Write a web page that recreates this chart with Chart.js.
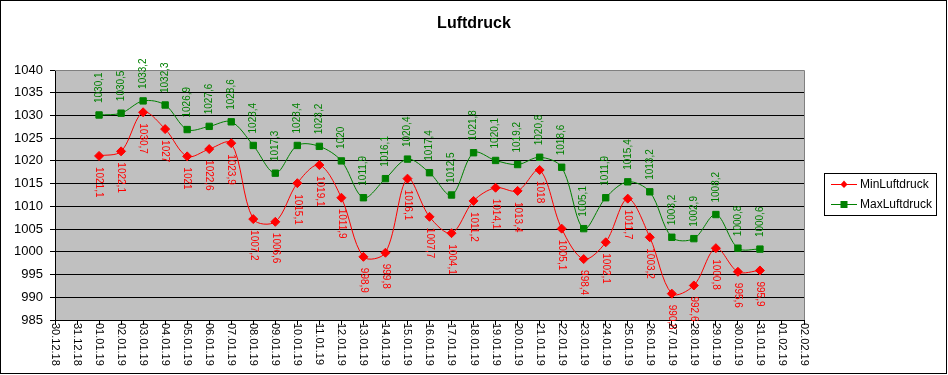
<!DOCTYPE html>
<html>
<head>
<meta charset="utf-8">
<script src="https://cdn.jsdelivr.net/npm/chart.js@4"></script>
<style>
html,body{margin:0;padding:0;background:#fff;}
canvas{display:block;}
</style>
</head>
<body>
<canvas id="c" width="948" height="375"></canvas>
<script>
const chartTitle = 'Luftdruck';
const dates = ['30.12.18','31.12.18','01.01.19','02.01.19','03.01.19','04.01.19','05.01.19','06.01.19','07.01.19','08.01.19','09.01.19','10.01.19','11.01.19','12.01.19','13.01.19','14.01.19','15.01.19','16.01.19','17.01.19','18.01.19','19.01.19','20.01.19','21.01.19','22.01.19','23.01.19','24.01.19','25.01.19','26.01.19','27.01.19','28.01.19','29.01.19','30.01.19','31.01.19','01.02.19','02.02.19'];
const measuredDates = ['01.01.19','02.01.19','03.01.19','04.01.19','05.01.19','06.01.19','07.01.19','08.01.19','09.01.19','10.01.19','11.01.19','12.01.19','13.01.19','14.01.19','15.01.19','16.01.19','17.01.19','18.01.19','19.01.19','20.01.19','21.01.19','22.01.19','23.01.19','24.01.19','25.01.19','26.01.19','27.01.19','28.01.19','29.01.19','30.01.19','31.01.19'];
const minLuftdruck = [1021.1,1022.1,1030.7,1027,1021,1022.6,1023.9,1007.2,1006.6,1015.1,1019.1,1011.9,998.9,999.8,1016.1,1007.7,1004.1,1011.2,1014.1,1013.4,1018,1005.1,998.4,1002.1,1011.7,1003.2,990.8,992.6,1000.8,995.6,995.9];
const maxLuftdruck = [1030.1,1030.5,1033.2,1032.3,1026.9,1027.6,1028.6,1023.4,1017.3,1023.4,1023.2,1020,1011.9,1016.1,1020.4,1017.4,1012.5,1021.8,1020.1,1019.2,1020.8,1018.6,1005.1,1011.9,1015.4,1013.2,1003.2,1002.9,1008.2,1000.8,1000.6];
const yMin = 985, yMax = 1040, yStep = 5;

const FONT = '"Liberation Sans", Arial, sans-serif';

const fmt = v => String(v).replace('.', ',');

const decorPlugin = {
  id: 'decor',
  beforeDraw(chart) {
    const ctx = chart.ctx, a = chart.chartArea;
    ctx.save();
    ctx.fillStyle = '#fff';
    ctx.fillRect(0, 0, chart.width, chart.height);
    ctx.fillStyle = '#C0C0C0';
    ctx.fillRect(a.left, a.top, a.right - a.left, a.bottom - a.top);
    ctx.restore();
  },
  afterDatasetsDraw(chart) {
    const ctx = chart.ctx, a = chart.chartArea;
    ctx.save();
    ctx.strokeStyle = '#808080';
    ctx.lineWidth = 1;
    ctx.beginPath();
    ctx.moveTo(a.left, Math.round(a.top) + 0.5);
    ctx.lineTo(Math.round(a.right) + 0.5, Math.round(a.top) + 0.5);
    ctx.lineTo(Math.round(a.right) + 0.5, a.bottom);
    ctx.stroke();

    const labelCfg = [
      { idx: 0, color: '#FF0000', dir: 1, off: 11 },
      { idx: 1, color: '#008000', dir: -1, off: 12 }
    ];
    labelCfg.forEach(cfg => {
      const meta = chart.getDatasetMeta(cfg.idx);
      const vals = chart.data.datasets[cfg.idx].data;
      meta.data.forEach((pt, i) => {
        const text = fmt(vals[i].y);
        ctx.save();
        ctx.translate(pt.x, pt.y + cfg.dir * cfg.off);
        ctx.rotate(cfg.dir * Math.PI / 2);
        ctx.font = '10px ' + FONT;
        ctx.fillStyle = cfg.color;
        ctx.textAlign = 'left';
        ctx.textBaseline = 'middle';
        ctx.fillText(text, 0, 0);
        ctx.restore();
      });
    });

    const xs = chart.scales.x;
    ctx.font = '11px ' + FONT;
    ctx.fillStyle = '#000';
    ctx.textAlign = 'left';
    ctx.textBaseline = 'middle';
    dates.forEach((d, i) => {
      const x = xs.getPixelForTick(i);
      ctx.save();
      ctx.translate(x, a.bottom + 3);
      ctx.rotate(Math.PI / 2);
      ctx.fillText(d, 0, 0);
      ctx.restore();
    });

    ctx.font = 'bold 16px ' + FONT;
    ctx.textAlign = 'center';
    ctx.textBaseline = 'middle';
    ctx.fillText(chartTitle, 474, 24);

    ctx.fillStyle = '#fff';
    ctx.fillRect(824, 173, 112, 42);
    ctx.strokeStyle = '#000';
    ctx.strokeRect(824.5, 173.5, 112, 42);
    chart.data.datasets.forEach((ds, i) => {
      const y = 184 + i * 20;
      ctx.strokeStyle = ds.borderColor;
      ctx.lineWidth = 1;
      ctx.beginPath();
      ctx.moveTo(831, y + 0.5);
      ctx.lineTo(857, y + 0.5);
      ctx.stroke();
      ctx.fillStyle = ds.borderColor;
      if (ds.pointStyle === 'rect') {
        ctx.fillRect(840.5, y - 3, 7, 7);
      } else {
        ctx.beginPath();
        ctx.moveTo(844, y - 3.5);
        ctx.lineTo(847.5, y + 0.5);
        ctx.lineTo(844, y + 4);
        ctx.lineTo(840.5, y + 0.5);
        ctx.closePath();
        ctx.fill();
      }
      ctx.fillStyle = '#000';
      ctx.font = '12px ' + FONT;
      ctx.textAlign = 'left';
      ctx.textBaseline = 'middle';
      ctx.fillText(ds.label, 860, y + 1);
    });

    ctx.strokeStyle = '#000';
    ctx.lineWidth = 1;
    ctx.strokeRect(0.5, 0.5, 946, 373);
    ctx.restore();
  }
};

new Chart(document.getElementById('c'), {
  type: 'line',
  data: {
    labels: dates,
    datasets: [
      {
        label: 'MinLuftdruck',
        data: minLuftdruck.map((v, i) => ({ x: measuredDates[i], y: v })),
        borderColor: '#FF0000',
        backgroundColor: '#FF0000',
        borderWidth: 1,
        pointStyle: 'rectRot',
        pointRadius: 4.5,
        pointBorderWidth: 1,
        tension: 0.33,
        fill: false
      },
      {
        label: 'MaxLuftdruck',
        data: maxLuftdruck.map((v, i) => ({ x: measuredDates[i], y: v })),
        borderColor: '#008000',
        backgroundColor: '#008000',
        borderWidth: 1,
        pointStyle: 'rect',
        pointRadius: 4.5,
        pointBorderWidth: 1,
        tension: 0.33,
        fill: false
      }
    ]
  },
  options: {
    responsive: false,
    animation: false,
    devicePixelRatio: 1,
    layout: { padding: { top: 70, right: 144, left: 0, bottom: 0 } },
    plugins: {
      legend: { display: false },
      title: { display: false },
      tooltip: { enabled: false }
    },
    scales: {
      x: {
        type: 'category',
        offset: false,
        afterFit(s) { s.height = 55; },
        ticks: { display: false, autoSkip: false },
        grid: { drawOnChartArea: false, drawTicks: true, tickLength: 5, color: '#000', tickColor: '#000' },
        border: { color: '#000', width: 1 }
      },
      y: {
        min: yMin,
        max: yMax,
        afterFit(s) { s.width = 55; },
        ticks: {
          stepSize: yStep,
          color: '#000',
          font: { family: FONT, size: 13 },
          padding: 7,
          callback: v => String(v)
        },
        grid: {
          color: c => (c.tick && c.tick.value === yMax) ? '#808080' : '#000',
          tickColor: '#000',
          tickLength: 5,
          lineWidth: 1
        },
        border: { color: '#000', width: 1 }
      }
    }
  },
  plugins: [decorPlugin]
});
</script>
</body>
</html>
